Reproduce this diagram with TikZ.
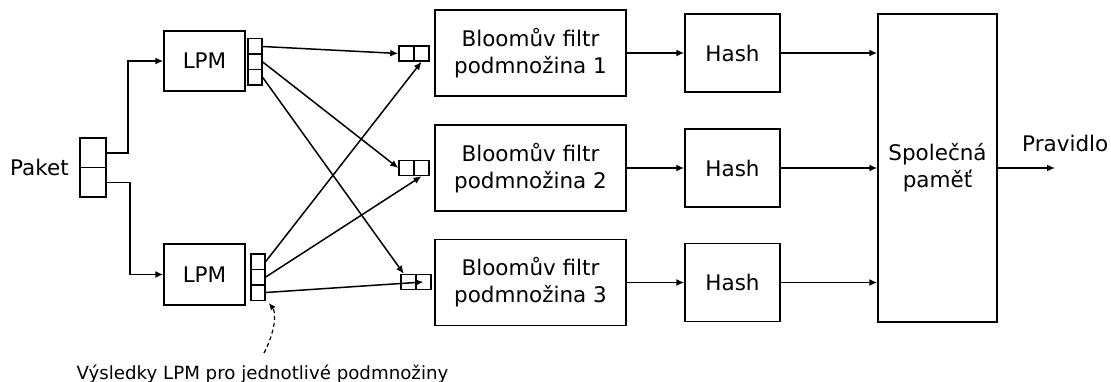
\documentclass[tikz,border=0pt]{standalone}
\usepackage{fontspec}
\setmainfont{DejaVu Sans}
\usetikzlibrary{arrows.meta}
\begin{document}
\begin{tikzpicture}[x=1pt,y=-1pt,
  box/.style={draw,line width=1.5pt,inner sep=0pt,align=center,font=\fontsize{21.5}{27}\selectfont},
  cell/.style={draw,line width=1.5pt,inner sep=0pt,minimum width=14pt,minimum height=15.5pt},
  tcell/.style={draw,line width=1.5pt,inner sep=0pt,minimum width=15pt,minimum height=15pt},
  arr/.style={line width=1.5pt,-{Latex[length=8pt,width=7pt]}},
  lbl/.style={inner sep=0pt,font=\fontsize{21.5}{27}\selectfont}]
\useasboundingbox (0,0) rectangle (1111,382);
% packet
\node[cell,minimum width=26pt,minimum height=29.5pt] (p1) at (93,153) {};
\node[cell,minimum width=26pt,minimum height=29.5pt] (p2) at (93,182.5) {};
\node[lbl,anchor=base west] (paket) at (10,176) {Paket};
% LPM
\node[box,minimum width=81pt,minimum height=60pt] (lpm1) at (204.5,61) {LPM};
\node[box,minimum width=81pt,minimum height=61pt] (lpm2) at (204.5,274.5) {LPM};
\node[cell] (u1) at (255,46.5) {};
\node[cell] (u2) at (255,62) {};
\node[cell] (u3) at (255,77.5) {};
\node[cell] (l1) at (258,261.5) {};
\node[cell] (l2) at (258,277) {};
\node[cell] (l3) at (258,292.5) {};
% target cells
\node[tcell] (t1l) at (406.5,53.5) {};
\node[tcell] (t1r) at (421.5,53.5) {};
\node[tcell] (t2l) at (406.5,168) {};
\node[tcell] (t2r) at (421.5,168) {};
\node[tcell] (t3l) at (408.5,282) {};
\node[tcell] (t3r) at (423.5,282) {};
% bloom
\node[box,minimum width=191pt,minimum height=86pt] (b1) at (530.5,53) {Bloomův filtr\\podmnožina 1};
\node[box,minimum width=191pt,minimum height=86pt] (b2) at (530.5,168) {Bloomův filtr\\podmnožina 2};
\node[box,minimum width=191pt,minimum height=86pt] (b3) at (530.5,282.5) {Bloomův filtr\\podmnožina 3};
% hash
\node[box,minimum width=95pt,minimum height=78pt] (h1) at (732.5,53) {Hash};
\node[box,minimum width=95pt,minimum height=78pt] (h2) at (732.5,168) {Hash};
\node[box,minimum width=95pt,minimum height=78pt] (h3) at (732.5,282.5) {Hash};
% memory
\node[box,minimum width=119pt,minimum height=308pt] (mem) at (937.5,168) {Společná\\paměť};
\coordinate (out) at (1055,168);
\node[lbl,anchor=base west] (prav) at (1022,152) {Pravidlo};
% caption
\node[inner sep=0pt,font=\fontsize{18.2}{22}\selectfont,anchor=base] (cap) at (262.5,379) {Výsledky LPM pro jednotlivé podmnožiny};
\coordinate (capstart) at (264,353);
% connectors
\draw[arr] (p1.east) -- ++(21,0) |- (lpm1.west);
\draw[arr] (p2.east) -- ++(23,0) |- (lpm2.west);
\draw[arr] (u1.east) -- (t1l.west);
\draw[arr] (u2.east) -- (t2l.west);
\draw[arr] (u3.east) -- (t3l.120);
\draw[arr] (l1.east) -- (t1r.south);
\draw[arr] (l2.east) -- (t2r.south);
\draw[arr] (l3.east) -- (t3r.center);
\foreach \i in {1,2,3}{
  \draw[arr] (b\i.east) -- (h\i.west);
  \draw[arr] (h\i.east) -- (mem.west |- h\i.east);
}
\draw[arr] (mem.east |- out) -- (out);
\draw[line width=1.2pt,dash pattern=on 4pt off 3pt,-{Latex[length=7pt,width=6pt]}] (capstart) .. controls (276,330) and (276,312) .. ([xshift=3pt,yshift=-2pt]l3.south east);
\end{tikzpicture}
\end{document}
